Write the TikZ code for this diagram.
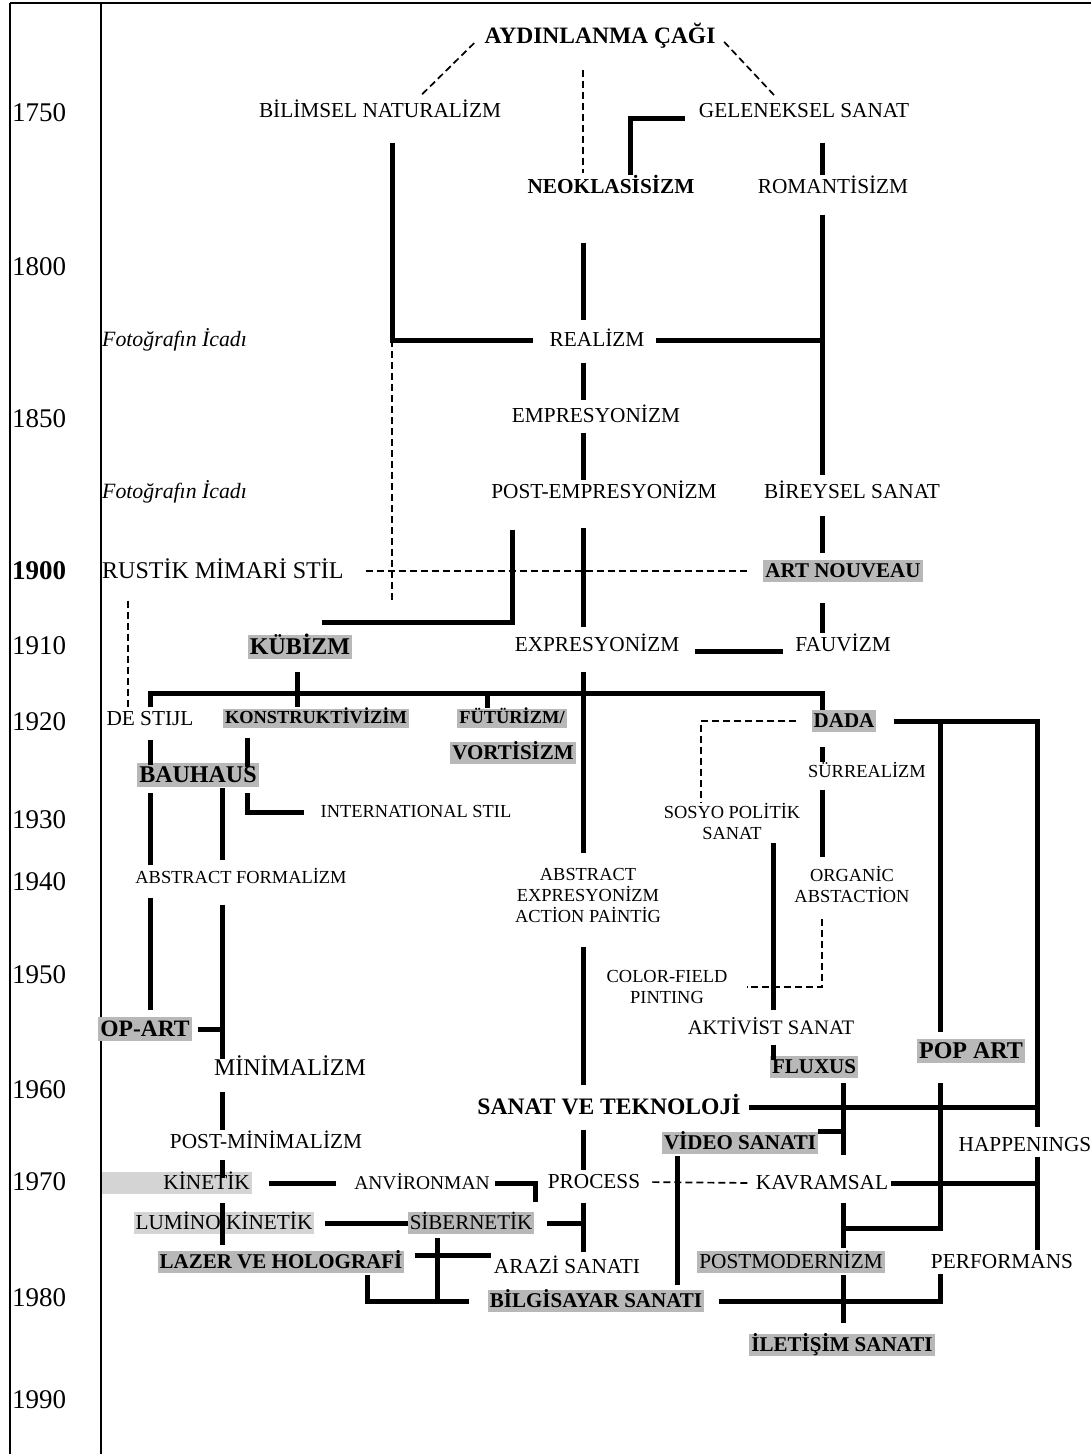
\documentclass[tikz,border=0pt]{standalone}
\usepackage{fontspec}
\setmainfont{Liberation Serif}

\newcommand\fsz[1]{\fontsize{#1}{#1}\selectfont}
\definecolor{shade}{gray}{0.72}
\definecolor{shadelt}{gray}{0.83}

\tikzset{
  lbl/.style={font=\fsz{21.3}, inner sep=3pt, text height=15pt, text depth=2pt},
  sml/.style={font=\fsz{18.4}, inner sep=3pt, text height=13pt, text depth=2pt},
  sml2/.style={font=\fontsize{18.4}{21}\selectfont, inner sep=3pt, align=center},
  big/.style={font=\fsz{24}, inner sep=3pt, text height=17pt, text depth=2pt},
  box/.style={fill=shade, font=\bfseries\fsz{21}, inner xsep=2pt, inner ysep=2pt, text height=15pt, text depth=3pt},
  bigbox/.style={box, font=\bfseries\fsz{24}, text height=17pt},
  smbox/.style={box, font=\bfseries\fsz{18.4}, text height=13pt, text depth=2pt},
  link/.style={line width=5pt},
  dashline/.style={line width=1.7pt, dash pattern=on 7pt off 4pt},
  year/.style={anchor=west, font=\fsz{27}, inner sep=1pt},
  note/.style={anchor=west, font=\itshape\fsz{21.8}, inner sep=1pt},
  frame/.style={line width=1.3pt}
}

\begin{document}
\begin{tikzpicture}[x=1pt, y=-1pt]
\useasboundingbox (0,0) rectangle (1091,1454);

% time axis
\draw[frame] (10,3) -- (1091,3);
\draw[frame] (10,3) -- (10,1454);
\draw[frame] (101,3) -- (101,1454);
\foreach \yr/\yy in {1750/113,1800/267,1850/419,1910/646,1920/722,1930/820,1940/882,1950/975,1960/1090,1970/1182,1980/1298,1990/1400}
  \node[year] (y\yr) at (11,\yy) {\yr};
\node[year, font=\bfseries\fsz{27}] (y1900) at (11,571) {1900};
\node[note] (foto1) at (101,340) {Fotoğrafın İcadı};
\node[note] (foto2) at (101,492) {Fotoğrafın İcadı};

% columns of the connectors
\coordinate (xDL) at (417,0);
\coordinate (xDR) at (778,0);
\coordinate (xBil) at (392,0);
\coordinate (xMid) at (583,0);
\coordinate (xNeo) at (630,0);
\coordinate (xRom) at (822,0);
\coordinate (xKub) at (512,0);
\coordinate (xRus) at (128,0);
\coordinate (xDe) at (150,0);
\coordinate (xKu2) at (297,0);
\coordinate (xFut) at (487,0);
\coordinate (xKon) at (247,0);
\coordinate (xMin) at (222,0);
\coordinate (xSos) at (701,0);
\coordinate (xAkt) at (773,0);
\coordinate (xPop) at (940,0);
\coordinate (xRight) at (1037,0);
\coordinate (xFlux) at (843,0);
\coordinate (xVid) at (677,0);
\coordinate (xAnv) at (535,0);
\coordinate (xSib) at (437,0);
\coordinate (xLaz) at (367,0);
\coordinate (bar) at (0,693);
\coordinate (jpm) at (843,1228);

% movements
\node[big, font=\bfseries\fsz{23.5}] (aydin) at (600,36) {AYDINLANMA ÇAĞI};
\node[lbl] (bilimsel) at (380,111) {BİLİMSEL NATURALİZM};
\node[lbl] (geleneksel) at (804,111) {GELENEKSEL SANAT};
\node[lbl, font=\bfseries\fsz{21.3}] (neo) at (611,187) {NEOKLASİSİZM};
\node[lbl] (romant) at (833,187) {ROMANTİSİZM};
\node[lbl] (realizm) at (597,340) {REALİZM};
\node[lbl] (empres) at (596,416) {EMPRESYONİZM};
\node[lbl] (postemp) at (604,492) {POST-EMPRESYONİZM};
\node[lbl] (bireysel) at (852,492) {BİREYSEL SANAT};
\node[big, anchor=west] (rustik) at (99,571) {RUSTİK MİMARİ STİL};
\node[box] (artn) at (843,571) {ART NOUVEAU};
\node[bigbox] (kubizm) at (300,647) {KÜBİZM};
\node[lbl] (expres) at (597,645) {EXPRESYONİZM};
\node[lbl] (fauvizm) at (843,645) {FAUVİZM};
\node[lbl] (destijl) at (150,719) {DE STIJL};
\node[smbox] (konst) at (316,718) {KONSTRUKTİVİZİM};
\node[smbox] (futur) at (512,718) {FÜTÜRİZM/};
\node[box] (vortis) at (513,753) {VORTİSİZM};
\node[box] (dada) at (844,721) {DADA};
\node[bigbox] (bauhaus) at (198,775) {BAUHAUS};
\node[sml] (surreal) at (867,772) {SÜRREALİZM};
\node[sml] (intl) at (416,812) {INTERNATIONAL STIL};
\node[sml2] (sosyo) at (732,821) {SOSYO POLİTİK\\SANAT};
\node[sml] (absform) at (241,878) {ABSTRACT FORMALİZM};
\node[sml2] (absexp) at (588,895) {ABSTRACT\\EXPRESYONİZM\\ACTİON PAİNTİG};
\node[sml2] (organic) at (852,884) {ORGANİC\\ABSTACTİON};
\node[sml2] (colorf) at (667,987) {COLOR-FIELD\\PINTING};
\node[lbl, font=\fsz{20.6}] (aktivist) at (771,1028) {AKTİVİST SANAT};
\node[bigbox, font=\bfseries\fsz{23.5}] (opart) at (145,1029) {OP-ART};
\node[big] (minimal) at (290,1068) {MİNİMALİZM};
\node[box] (fluxus) at (814,1067) {FLUXUS};
\node[bigbox] (popart) at (971,1051) {POP ART};
\node[big, font=\bfseries\fsz{23.6}] (sanattek) at (609,1107) {SANAT VE TEKNOLOJİ};
\node[lbl] (postmin) at (266,1142) {POST-MİNİMALİZM};
\node[box] (video) at (740,1143) {VİDEO SANATI};
\node[lbl] (happen) at (1025,1145) {HAPPENINGS};
\node[box, fill=shadelt, font=\fsz{21.3}, anchor=east, text width=146pt, align=right] (kinetik) at (252,1183) {KİNETİK};
\node[lbl, font=\fsz{19.5}] (anviron) at (422,1183) {ANVİRONMAN};
\node[lbl] (process) at (594,1182) {PROCESS};
\node[lbl] (kavram) at (822,1183) {KAVRAMSAL};
\node[box, fill=shadelt, font=\fsz{21.3}] (lumino) at (224,1223) {LUMİNO KİNETİK};
\node[box, font=\fsz{21}] (siber) at (471,1223) {SİBERNETİK};
\node[box] (lazer) at (281,1262) {LAZER VE HOLOGRAFİ};
\node[lbl] (arazi) at (567,1267) {ARAZİ SANATI};
\node[box, font=\fsz{21.3}] (postmod) at (791,1262) {POSTMODERNİZM};
\node[lbl] (perform) at (1002,1262) {PERFORMANS};
\node[box] (bilgi) at (596,1301) {BİLGİSAYAR SANATI};
\node[box] (iletisim) at (842,1345) {İLETİŞİM SANATI};

% dashed links
\draw[dashline, shorten <=10pt, shorten >=4pt] (aydin.west) -- (bilimsel.north -| xDL);
\draw[dashline, shorten <=8pt, shorten >=4pt] (aydin.east) -- (geleneksel.north -| xDR);
\draw[dashline, shorten <=21pt, shorten >=2pt] (aydin.south -| xMid) -- (neo.north -| xMid);
\draw[dashline, shorten >=33pt] (realizm.west -| xBil) -- (kubizm.north -| xBil);
\draw[dashline, shorten <=19pt, shorten >=13pt] (rustik.east) -- (rustik.east -| artn.west);
\draw[dashline, shorten <=17pt] (rustik.south -| xRus) -- (destijl.north -| xRus);
\draw[dashline, shorten <=15pt, shorten >=-2pt] (dada.west) -| (sosyo.north -| xSos);
\draw[dashline, shorten <=14pt, shorten >=16pt] (organic.south -| xRom) |- (colorf.east);
\draw[dashline, shorten <=9pt, shorten >=5pt] (process.east) -- (kavram.west);

% 1750 - 1900
\draw[link, shorten <=20pt, shorten >=13pt] (bilimsel.south -| xBil) |- (realizm.west);
\draw[link, shorten <=11pt] ([yshift=-7pt]geleneksel.west) -| (neo.north -| xNeo);
\draw[link, shorten <=20pt] (geleneksel.south -| xRom) -- (romant.north -| xRom);
\draw[link, shorten <=44pt, shorten >=8pt] (neo.south -| xMid) -- (realizm.north -| xMid);
\draw[link, shorten <=16pt, shorten >=5pt] (romant.south -| xRom) -- (bireysel.north -| xRom);
\draw[link, shorten <=8pt] (realizm.east) -- (realizm.east -| xRom);
\draw[link, shorten <=11pt, shorten >=4pt] (realizm.south -| xMid) -- (empres.north -| xMid);
\draw[link, shorten <=5pt] (empres.south -| xMid) -- (postemp.north -| xMid);
\draw[link, shorten <=24pt, shorten >=6pt] (postemp.south -| xMid) -- (expres.north -| xMid);
\draw[link, shorten <=26pt, shorten >=22pt] (postemp.south -| xKub) |- ([yshift=12pt]kubizm.north);
\draw[link, shorten <=12pt, shorten >=7pt] (bireysel.south -| xRom) -- (artn.north -| xRom);
\draw[link, shorten <=21pt] (artn.south -| xRom) -- (fauvizm.north -| xRom);
\draw[link, shorten <=13pt, shorten >=9pt] ([yshift=-6pt]expres.east) -- ([yshift=-6pt]fauvizm.west);

% 1910 - 1960
\draw[link] (destijl.north -| xDe) |- (bar -| xRom) -- (dada.north -| xRom);
\draw[link, shorten <=13pt, shorten >=1pt] (kubizm.south -| xKu2) -- (konst.north -| xKu2);
\draw[link] (bar -| xFut) -- (futur.north -| xFut);
\draw[link, shorten <=15pt, shorten >=12pt] (expres.south -| xMid) -- (absexp.north -| xMid);
\draw[link, shorten <=9pt, shorten >=-2pt] (destijl.south -| xDe) -- (bauhaus.north -| xDe);
\draw[link, shorten <=10pt, shorten >=-4pt] (konst.south -| xKon) -- (bauhaus.north -| xKon);
\draw[link, shorten <=6pt, shorten >=13pt] (bauhaus.south -| xKon) |- (intl.west);
\draw[link, shorten <=6pt, shorten >=2pt] (bauhaus.south -| xDe) -- (absform.north -| xDe);
\draw[link, shorten <=1pt, shorten >=7pt] (bauhaus.south -| xMin) -- (absform.north -| xMin);
\draw[link, shorten <=9pt, shorten >=7pt] (absform.south -| xDe) -- (opart.north -| xDe);
\draw[link, shorten <=16pt, shorten >=-4pt] (absform.south -| xMin) -- (minimal.north -| xMin);
\draw[link, shorten <=6pt] (opart.east) -- (opart.east -| xMin);
\draw[link, shorten <=17pt, shorten >=6pt] (dada.east) -| (happen.north -| xRight);
\draw[link, shorten >=7pt] (dada.east -| xPop) -- (popart.north -| xPop);
\draw[link, shorten <=15pt, shorten >=-1pt] (dada.south -| xRom) -- (surreal.north -| xRom);
\draw[link, shorten <=7pt, shorten >=6pt] (surreal.south -| xRom) -- (organic.north -| xRom);
\draw[link, shorten <=1pt, shorten >=6pt] (sosyo.south -| xAkt) -- (aktivist.north -| xAkt);
\draw[link, shorten <=5pt, shorten >=-4pt] (aktivist.south -| xAkt) -- (fluxus.north -| xAkt);
\draw[link, shorten <=22pt, shorten >=9pt] (absexp.south -| xMid) -- (sanattek.north -| xMid);

% 1960 - 1990
\draw[link, shorten <=11pt] (minimal.south -| xMin) -- (postmin.north -| xMin);
\draw[link, shorten <=6pt, shorten >=-6pt] (postmin.south -| xMin) -- (kinetik.north -| xMin);
\draw[link, shorten <=9pt, shorten >=6pt] (kinetik.south -| xMin) -- (lazer.north -| xMin);
\draw[link, shorten <=17pt, shorten >=15pt] (kinetik.east) -- (anviron.west);
\draw[link, shorten <=10pt] (lumino.east) -- (lumino.east -| siber.west);
\draw[link, shorten <=2pt, shorten >=-8pt] (anviron.east) -| (process.south -| xAnv);
\draw[link, shorten <=10pt] (sanattek.south -| xMid) -- (process.north -| xMid);
\draw[link, shorten <=9pt, shorten >=3pt] (process.south -| xMid) -- (arazi.north -| xMid);
\draw[link, shorten <=13pt] (siber.east) -- (siber.east -| xMid);
\draw[link, shorten <=4pt] (siber.south -| xSib) -- (bilgi.west -| xSib);
\draw[link, shorten <=2pt, shorten >=19pt] (lazer.south -| xLaz) |- (bilgi.west);
\draw[link, shorten <=-22pt] (arazi.north west -| xSib) -- (arazi.north west);
\draw[link, shorten <=5pt, shorten >=-2.5pt] (sanattek.east) -- (sanattek.east -| xRight);
\draw[link, shorten <=5pt, shorten >=16pt] (fluxus.south -| xFlux) -- (kavram.north -| xFlux);
\draw[link] (video.north east) -- (video.north east -| xFlux);
\draw[link, shorten <=2pt, shorten >=5pt] (video.south -| xVid) -- (bilgi.north -| xVid);
\draw[link, shorten >=-2.5pt] (kavram.east) -- (kavram.east -| xRight);
\draw[link, shorten <=8pt, shorten >=3pt] (kavram.south -| xFlux) -- (postmod.north -| xFlux);
\draw[link, shorten <=20pt, shorten >=-2.5pt] (popart.south -| xPop) |- (jpm);
\draw[link, shorten <=2pt, shorten >=11pt] (postmod.south -| xFlux) -- (iletisim.north -| xFlux);
\draw[link, shorten <=15pt] (bilgi.east) -| (perform.south -| xPop);
\draw[link] (happen.south -| xRight) -- (perform.north -| xRight);
\end{tikzpicture}
\end{document}
